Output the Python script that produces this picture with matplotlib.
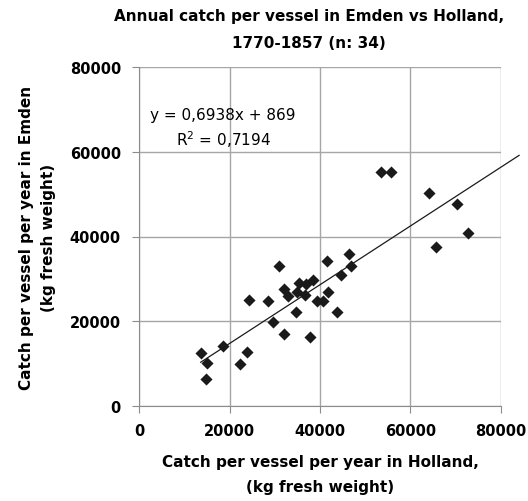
import numpy as np
import matplotlib
matplotlib.use("Agg")
from matplotlib import pyplot as plt

# catch per vessel per year (kg fresh weight)
holland = [13630, 15100, 14800, 18640, 22320, 23800, 24380, 28580, 29540,
           30940, 31970, 32120, 33000, 34700, 34850, 35290, 36760, 36910,
           38380, 37790, 39270, 40740, 41700, 41620, 43690, 44640, 46480,
           46780, 53550, 55620, 64160, 65640, 70210, 72710]
emden = [12620, 10260, 6470, 14190, 9930, 12860, 25060, 24680, 19710,
         33100, 16950, 27660, 26000, 22080, 26800, 29000, 26100, 28770,
         29640, 16400, 24820, 24750, 26950, 34280, 22080, 30830, 35790,
         33020, 55320, 55320, 50210, 37440, 47610, 40830]
slope, intercept = 0.6938, 869
trend_end = 84000
ticks = [0, 20000, 40000, 60000, 80000]

fig = plt.figure(figsize=(5.28, 5.02), dpi=100)
ax = fig.add_axes([139/528, 1 - 407/502, 362/528, 339/502])

ax.scatter(holland, emden, marker="D", s=38, color="#1a1a1a", zorder=3,
           linewidths=0)
tx = np.array([min(holland), trend_end])
ax.plot(tx, slope*tx + intercept, color="#1a1a1a", lw=0.9, zorder=2,
        clip_on=False)

ax.set_xlim(0, 80000)
ax.set_ylim(0, 80000)
ax.set_xticks(ticks)
ax.set_yticks(ticks)
ax.grid(True, color="#a6a6a6", lw=1)
ax.set_axisbelow(True)
for s in ["top", "right"]:
    ax.spines[s].set_visible(False)
for s in ["left", "bottom"]:
    ax.spines[s].set_color("#8c8c8c")
ax.tick_params(direction="out", length=5, color="#8c8c8c", labelsize=10.5)
ax.tick_params(axis="y", pad=8)
ax.tick_params(axis="x", pad=7)
for lab in ax.get_xticklabels() + ax.get_yticklabels():
    lab.set_fontweight("bold")

ax.text(0.232, 0.861, "y = 0,6938x + 869", transform=ax.transAxes,
        ha="center", va="center", fontsize=11)
ax.text(0.232, 0.788, "R$^2$ = 0,7194", transform=ax.transAxes,
        ha="center", va="center", fontsize=11)

fig.text(0.585, 0.968, "Annual catch per vessel in Emden vs Holland,",
         ha="center", va="center", fontsize=11, fontweight="bold")
fig.text(0.585, 0.914, "1770-1857 (n: 34)",
         ha="center", va="center", fontsize=11, fontweight="bold")
ax.set_xlabel("Catch per vessel per year in Holland,\n(kg fresh weight)",
              fontsize=11, fontweight="bold", labelpad=12, linespacing=1.8)
ax.set_ylabel("Catch per vessel per year in Emden\n(kg fresh weight)",
              fontsize=11, fontweight="bold", labelpad=10, linespacing=1.6)

fig.savefig("out.png", dpi=100)
